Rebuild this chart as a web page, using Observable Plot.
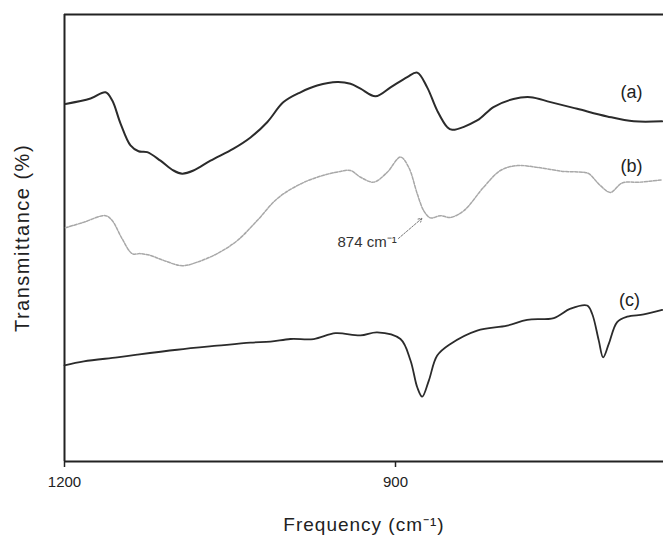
<!DOCTYPE html>
<html>
<head>
<meta charset="utf-8">
<script src="https://cdn.jsdelivr.net/npm/d3@7"></script>
<script src="https://cdn.jsdelivr.net/npm/@observablehq/plot@0.6"></script>
<style>
  html, body { margin: 0; padding: 0; background: #fff; }
  #chart svg { display: block; }
  #chart svg .wide-label { letter-spacing: 1px; }
  #chart svg .wider-label { letter-spacing: 1.5px; }
</style>
</head>
<body>
<div id="chart"></div>
<script>
// Frequency (cm^-1) and transmittance (arbitrary %, offset traces)
const freqA = [1199.1,1176.4,1162.8,1156.8,1149.2,1140.2,1132.9,1125.0,1113.0,1101.2,1093.3,1083.1,1067.7,1046.8,1031.4,1016.3,1001.5,986.1,971.0,952.8,940.8,931.7,918.1,904.5,889.4,880.3,871.3,862.2,853.1,848.6,826.0,811.2,793.1,777.7,759.5,735.3,708.1,684.0,658.3];
const tA    = [80.0,81.2,82.6,80.8,75.6,70.7,69.4,69.2,67.3,65.1,64.4,65.1,67.3,70.0,72.5,75.9,80.4,82.6,84.1,84.9,84.5,83.4,81.7,83.7,86.0,87.0,83.7,78.5,74.8,74.2,76.3,79.3,81.1,81.5,80.4,78.9,77.2,76.1,76.1];

const freqB = [1199.1,1182.8,1162.8,1156.8,1147.7,1138.6,1131.1,1122.1,1110.3,1093.3,1079.7,1061.6,1043.5,1025.4,1007.2,989.1,971.0,949.9,940.8,931.7,919.7,907.5,895.5,888.0,880.3,874.4,868.3,859.2,850.2,838.1,820.0,804.9,789.7,771.6,747.5,729.4,724.8,714.2,705.2,694.6,678.0,658.3];
const tB    = [52.3,53.5,55.0,53.9,49.8,46.5,46.5,46.1,45.0,43.8,44.6,46.5,49.4,53.9,58.8,61.7,63.6,64.9,65.1,63.6,62.5,64.7,68.1,65.8,59.9,56.1,54.5,55.0,54.6,56.1,61.4,65.1,66.2,65.8,64.9,64.7,64.4,61.7,60.2,62.3,62.5,63.0];

const freqC = [1200,1182.5,1152.2,1134.1,1097.9,1061.6,1031.4,1013.3,995.2,974.1,954.4,931.7,916.6,895.5,886.4,880.3,875.8,869.8,862.2,850.2,826.0,798.8,780.7,756.5,741.4,726.3,721.7,715.8,711.8,706.7,699.1,690.0,675.0,658.3];
const tC    = [21.5,22.4,23.3,23.9,25.0,25.9,26.6,26.8,27.4,27.4,28.7,28.2,28.9,27.4,22.6,16.6,14.5,18.1,23.7,26.3,29.3,30.4,31.7,32.1,34.2,34.9,33.0,27.1,23.3,26.3,31.2,32.4,32.9,33.9];

const seriesLabels = ["(a)", "(b)", "(c)"];
const labelFreq = [686, 686, 688];
const labelT = [82.6, 66.0, 36.0];

const xTicks = [1200, 900];
const xDomain = [1200, 657.1];
const yDomain = [0, 100];

const annotText = "874 cm\u207B\u00B9";
const annotPos = {x: 952.6, y: 49.0};
const annotArrow = [{x1: 897.3, y1: 49.9, x2: 876.0, y2: 54.4}];

const toRows = (fs, ts) => fs.map((f, i) => ({f, t: ts[i]}));
const rowsA = toRows(freqA, tA);
const rowsB = toRows(freqB, tB);
const rowsC = toRows(freqC, tC);
const labelRows = seriesLabels.map((s, i) => ({s, f: labelFreq[i], t: labelT[i]}));

const chart = Plot.plot({
  width: 663,
  height: 537,
  marginLeft: 64,
  marginRight: 0,
  marginTop: 14,
  marginBottom: 76,
  style: {fontFamily: "'Liberation Sans', Arial, sans-serif", fontSize: "15px", color: "#222", background: "#fff"},
  x: {domain: xDomain},
  y: {domain: yDomain},
  marks: [
    Plot.axisX({ticks: xTicks, tickFormat: d => String(d), tickSize: 6, tickPadding: 9, label: null, strokeWidth: 1.5}),
    Plot.axisY({ticks: [], label: null}),
    Plot.ruleX([xDomain[0]], {stroke: "#222", strokeWidth: 2}),
    Plot.ruleY(yDomain, {stroke: "#222", strokeWidth: 2}),
    Plot.line(rowsA, {x: "f", y: "t", stroke: "#2b2b2b", strokeWidth: 2, curve: "catmull-rom"}),
    Plot.line(rowsB, {x: "f", y: "t", stroke: "#a8a8a8", strokeWidth: 1.5, strokeDasharray: "3,1.5", curve: "catmull-rom"}),
    Plot.line(rowsC, {x: "f", y: "t", stroke: "#2b2b2b", strokeWidth: 1.8, curve: "catmull-rom"}),
    Plot.text(labelRows, {x: "f", y: "t", text: "s", fontSize: 18, fill: "#222"}),
    Plot.text([annotText], {x: annotPos.x, y: annotPos.y, textAnchor: "start", fontSize: 15, fill: "#333"}),
    Plot.arrow(annotArrow, {x1: "x1", y1: "y1", x2: "x2", y2: "y2", stroke: "#777", strokeWidth: 1, strokeDasharray: "2,1.5", headLength: 6}),
    Plot.text(["Frequency (cm\u207B\u00B9)"], {frameAnchor: "bottom", dy: 63, lineAnchor: "middle", textAnchor: "middle", fontSize: 19, fill: "#222", className: "wide-label"}),
    Plot.text(["Transmittance (%)"], {frameAnchor: "left", dx: -42, rotate: -90, lineAnchor: "middle", textAnchor: "middle", fontSize: 20, fill: "#222", className: "wider-label"})
  ]
});
document.getElementById("chart").appendChild(chart);
</script>
</body>
</html>
